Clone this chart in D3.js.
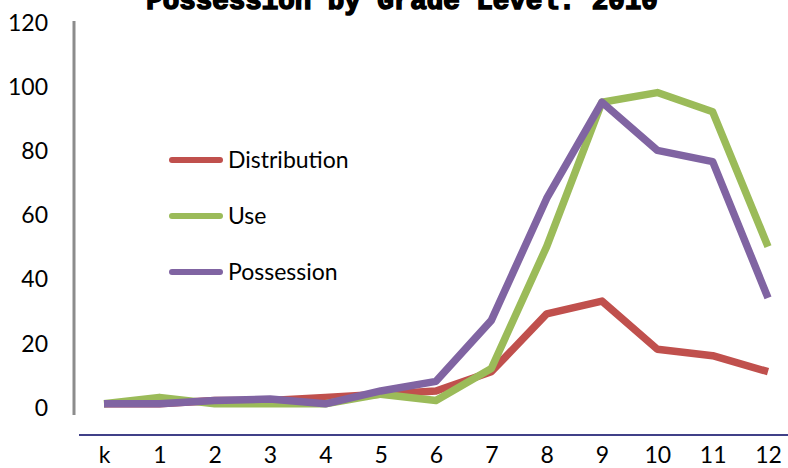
<!DOCTYPE html>
<html>
<head>
<meta charset="utf-8">
<script src="https://cdn.jsdelivr.net/npm/d3@7"></script>
<style>
  html, body { margin: 0; padding: 0; background: #fff; }
  svg { display: block; }
</style>
</head>
<body>
<svg id="chart" width="788" height="468"></svg>
<script>
// Grade levels and offence counts per series
const grades = ["k", "1", "2", "3", "4", "5", "6", "7", "8", "9", "10", "11", "12"];
const distribution = [1, 1, 2, 2, 3, 4, 5, 11, 29, 33, 18, 16, 11];
const use = [1, 3, 1, 1, 1, 4, 2, 12, 50, 95, 98, 92, 50];
const possession = [1, 1, 2, 2.5, 1, 5, 8, 27, 65, 95, 80, 76.5, 34];
const yTicks = [0, 20, 40, 60, 80, 100, 120];
const seriesNames = ["Distribution", "Use", "Possession"];
const seriesColors = ["#C0504D", "#9BBB59", "#8064A2"];
const titleText = "Possession by Grade Level: 2010";

const svg = d3.select("#chart");
const font = "Lato, 'Open Sans', sans-serif";

const x = d3.scalePoint().domain(grades).range([104, 768]);
const y = d3.scaleLinear().domain([0, 120]).range([407, 22]);

// Title (runs off the top edge)
svg.append("text")
  .attr("x", 402).attr("y", 9)
  .attr("text-anchor", "middle")
  .attr("font-family", "'Liberation Mono', 'DejaVu Sans Mono', monospace")
  .attr("font-weight", "bold")
  .attr("font-size", 27.5)
  .attr("fill", "#000")
  .attr("stroke", "#000")
  .attr("stroke-width", 1.6)
  .text(titleText);

// Vertical value axis: grey rule with labels to its left
svg.append("line")
  .attr("x1", 74).attr("x2", 74)
  .attr("y1", 21).attr("y2", 415)
  .attr("stroke", "#8c8c8c").attr("stroke-width", 3);

const yAxis = d3.axisLeft(y).tickValues(yTicks).tickSize(0).tickPadding(0).tickFormat(d3.format("d"));
const yg = svg.append("g").attr("transform", "translate(48,0)").call(yAxis);
yg.select(".domain").remove();
yg.selectAll("text")
  .attr("text-anchor", "end")
  .attr("font-family", font)
  .attr("font-size", 23)
  .attr("fill", "#000")
  .attr("dy", "0.36em");

// Horizontal category axis
const xAxis = d3.axisBottom(x).tickSize(0).tickPadding(0);
const xg = svg.append("g").attr("transform", "translate(0,435)").call(xAxis);
xg.select(".domain").remove();
xg.append("line")
  .attr("x1", 79).attr("x2", 788)
  .attr("stroke", "#000060").attr("stroke-width", 1.5);
xg.selectAll("text")
  .attr("font-family", font)
  .attr("font-size", 23)
  .attr("fill", "#000")
  .attr("dy", "1.2em");

// Series lines
const data = [distribution, use, possession];
const line = d3.line()
  .x((d, i) => x(grades[i]))
  .y(d => y(d));

data.forEach((vals, i) => {
  svg.append("path")
    .datum(vals)
    .attr("d", line)
    .attr("fill", "none")
    .attr("stroke", seriesColors[i])
    .attr("stroke-width", 7.5)
    .attr("stroke-linejoin", "round");
});

// Legend
const legendY = [160, 216, 272];
seriesNames.forEach((name, i) => {
  svg.append("line")
    .attr("x1", 172).attr("x2", 220)
    .attr("y1", legendY[i]).attr("y2", legendY[i])
    .attr("stroke", seriesColors[i])
    .attr("stroke-width", 6)
    .attr("stroke-linecap", "round");
  svg.append("text")
    .attr("x", 228).attr("y", legendY[i])
    .attr("dy", "0.36em")
    .attr("font-family", font)
    .attr("font-size", 23)
    .attr("fill", "#000")
    .text(name);
});
</script>
</body>
</html>
